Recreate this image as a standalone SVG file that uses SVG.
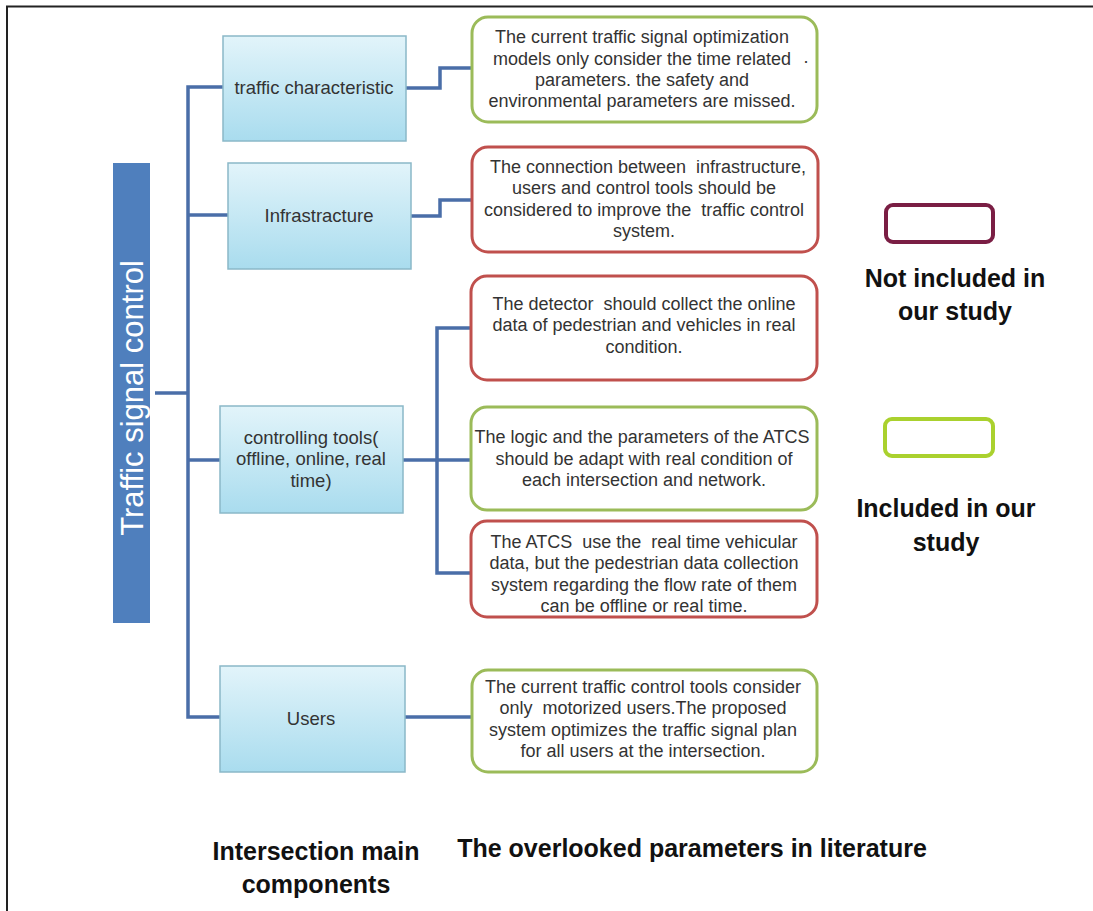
<svg xmlns="http://www.w3.org/2000/svg" width="1093" height="911" viewBox="0 0 1093 911">
<style>
.comp{fill:url(#gBlue);stroke:#8ab8c8;stroke-width:1.5}
.ctext{font-family:"Liberation Sans",Arial,sans-serif;font-size:18.5px;fill:#333;text-anchor:middle;dominant-baseline:central}
.btext{font-family:"Liberation Sans",Arial,sans-serif;font-size:18px;fill:#333;text-anchor:middle;dominant-baseline:central;white-space:pre}
.green{fill:#fff;stroke:#9bbb59;stroke-width:3}
.red{fill:#fff;stroke:#c0504d;stroke-width:3}
.conn{fill:none;stroke:#4a6ea8;stroke-width:3.5;stroke-linejoin:miter}
.lbl{font-family:"Liberation Sans",Arial,sans-serif;font-size:25px;font-weight:bold;fill:#111;text-anchor:middle;dominant-baseline:central}
</style>
<defs>
<linearGradient id="gBlue" x1="0" y1="0" x2="0" y2="1">
<stop offset="0" stop-color="#e2f4fa"/>
<stop offset="1" stop-color="#a9dcee"/>
</linearGradient>
</defs>
<rect width="1093" height="911" fill="#fff"/>
<path d="M7 911 V6.5 H1093" fill="none" stroke="#222" stroke-width="2"/>

<g id="connectors">
<path class="conn" d="M155 393 H188"/>
<path class="conn" d="M223 87 H188 V717 H220"/>
<path class="conn" d="M188 215 H228"/>
<path class="conn" d="M188 460 H220"/>
<path class="conn" d="M406 88 H440 V68 H472"/>
<path class="conn" d="M411 216 H440 V200 H472"/>
<path class="conn" d="M403 460 H472"/>
<path class="conn" d="M472 328 H437 V573 H472"/>
<path class="conn" d="M405 717 H472"/>
</g>

<g id="root">
<rect x="113" y="163" width="37" height="460" fill="#4f7fbd"/>
<text transform="translate(132 398) rotate(-90)" font-family="Liberation Sans,Arial,sans-serif" font-size="31" fill="#fff" text-anchor="middle" dominant-baseline="central">Traffic signal control</text>
</g>

<g id="traffic-characteristic">
<rect class="comp" x="223" y="36" width="183" height="105"/>
<text class="ctext" x="314" y="87">traffic characteristic</text>
</g>
<g id="infrastructure">
<rect class="comp" x="228" y="163" width="183" height="106"/>
<text class="ctext" x="319" y="215">Infrastracture</text>
</g>
<g id="controlling-tools">
<rect class="comp" x="220" y="406" width="183" height="107"/>
<text class="ctext" x="311" y="437">controlling tools(</text>
<text class="ctext" x="311" y="458">offline, online, real</text>
<text class="ctext" x="311" y="480">time)</text>
</g>
<g id="users">
<rect class="comp" x="220" y="666" width="185" height="106"/>
<text class="ctext" x="311" y="718">Users</text>
</g>

<g id="p1">
<rect class="green" x="472" y="17" width="345" height="105" rx="16"/>
<text class="btext" x="642" y="37">The current traffic signal optimization</text>
<text class="btext" x="642" y="59">models only consider the time related</text>
<text class="btext" x="642" y="80">parameters. the safety and</text>
<text class="btext" x="642" y="101">environmental parameters are missed.</text>
</g>
<text class="btext" x="806" y="57">.</text>

<g id="p2">
<rect class="red" x="472" y="147" width="346" height="105" rx="16"/>
<text class="btext" x="648" y="167">The connection between  infrastructure,</text>
<text class="btext" x="644" y="188">users and control tools should be</text>
<text class="btext" x="644" y="210">considered to improve the  traffic control</text>
<text class="btext" x="644" y="231">system.</text>
</g>

<g id="p3">
<rect class="red" x="471" y="276" width="346" height="104" rx="16"/>
<text class="btext" x="644" y="304">The detector  should collect the online</text>
<text class="btext" x="644" y="325">data of pedestrian and vehicles in real</text>
<text class="btext" x="644" y="347">condition.</text>
</g>

<g id="p4">
<rect class="green" x="471" y="407" width="346" height="103" rx="16"/>
<text class="btext" x="642" y="437">The logic and the parameters of the ATCS</text>
<text class="btext" x="644" y="459">should be adapt with real condition of</text>
<text class="btext" x="644" y="480">each intersection and network.</text>
</g>

<g id="p5">
<rect class="red" x="471" y="521" width="346" height="96" rx="16"/>
<text class="btext" x="644" y="542">The ATCS  use the  real time vehicular</text>
<text class="btext" x="644" y="563">data, but the pedestrian data collection</text>
<text class="btext" x="644" y="585">system regarding the flow rate of them</text>
<text class="btext" x="644" y="606">can be offline or real time.</text>
</g>

<g id="p6">
<rect class="green" x="472" y="670" width="345" height="102" rx="16"/>
<text class="btext" x="643" y="687">The current traffic control tools consider</text>
<text class="btext" x="643" y="708">only  motorized users.The proposed</text>
<text class="btext" x="643" y="730">system optimizes the traffic signal plan</text>
<text class="btext" x="643" y="751">for all users at the intersection.</text>
</g>

<g id="legend-not-included">
<rect x="886" y="205" width="107" height="37" rx="7" fill="#fff" stroke="#7a1e44" stroke-width="4"/>
<text class="lbl" x="955" y="278">Not included in</text>
<text class="lbl" x="955" y="311">our study</text>
</g>
<g id="legend-included">
<rect x="885" y="419" width="108" height="37" rx="7" fill="#fff" stroke="#aad12e" stroke-width="4"/>
<text class="lbl" x="946" y="508">Included in our</text>
<text class="lbl" x="946" y="542">study</text>
</g>

<g id="labels">
<text class="lbl" x="316" y="851">Intersection main</text>
<text class="lbl" x="316" y="884">components</text>
<text class="lbl" x="692" y="848">The overlooked parameters in literature</text>
</g>
</svg>
